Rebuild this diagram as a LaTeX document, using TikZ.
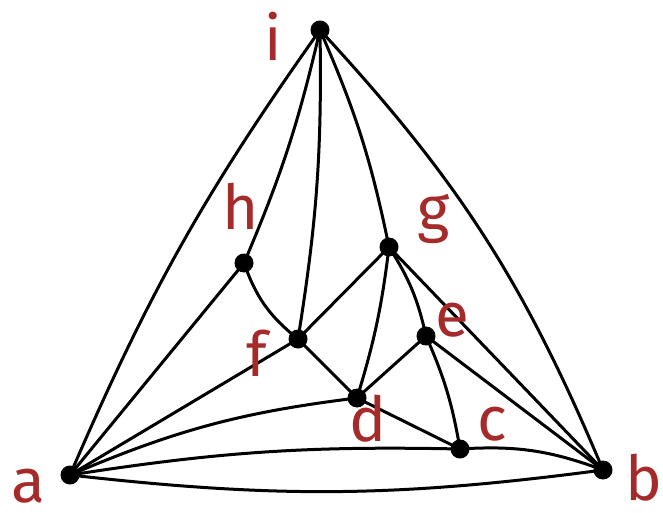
\documentclass[tikz,border=0pt]{standalone}
\usepackage{fontspec}
\setmainfont{Fira Sans}
\definecolor{lab}{RGB}{165,42,42}
\begin{document}
\begin{tikzpicture}[x=0.5pt,y=-0.5pt,
  vtx/.style={circle,fill=black,inner sep=0pt,minimum size=9.5pt},
  lbl/.style={text=lab,inner sep=0pt,font=\fontsize{31}{36}\selectfont},
  edge/.style={line width=1.5pt}]
\useasboundingbox (0,0) rectangle (663,513);
\coordinate (i) at (320,30);
\coordinate (h) at (244,263);
\coordinate (g) at (389,247);
\coordinate (e) at (426,336);
\coordinate (f) at (298,339);
\coordinate (d) at (357,398);
\coordinate (c) at (460,449);
\coordinate (a) at (70,475);
\coordinate (b) at (603,470);
\begin{scope}[edge]
\draw (i) to[bend right=6] (a);
\draw (i) to[bend left=10] (b);
\draw (a) to[bend right=7] (b);
\draw (a) to[bend left=5] (c);
\draw (c) to[bend left=12] (b);
\draw (a) to[bend left=8] (d);
\draw (a) -- (f);
\draw (a) -- (h);
\draw (i) to[bend left=5] (h);
\draw (i) to[bend left=5] (f);
\draw (i) to[bend left=6] (g);
\draw (h) to[bend right=16] (f);
\draw (f) -- (g);
\draw (f) -- (d);
\draw (g) to[bend left=5] (d);
\draw (g) to[bend left=10] (e);
\draw (g) -- (b);
\draw (e) -- (d);
\draw (e) to[bend left=7] (c);
\draw (e) -- (b);
\draw (d) -- (c);
\end{scope}
\foreach \v in {i,h,g,e,f,d,c,a,b} \node[vtx] (n\v) at (\v) {};
\node[lbl] (la) at (28,486) {a};
\node[lbl] (lb) at (644,478) {b};
\node[lbl] (lc) at (492,424) {c};
\node[lbl] (ld) at (368,419) {d};
\node[lbl] (le) at (452,320) {e};
\node[lbl] (lf) at (257,353) {f};
\node[lbl] (lg) at (434,219) {g};
\node[lbl] (lh) at (241,206) {h};
\node[lbl] (li) at (273,36) {i};
\end{tikzpicture}
\end{document}
